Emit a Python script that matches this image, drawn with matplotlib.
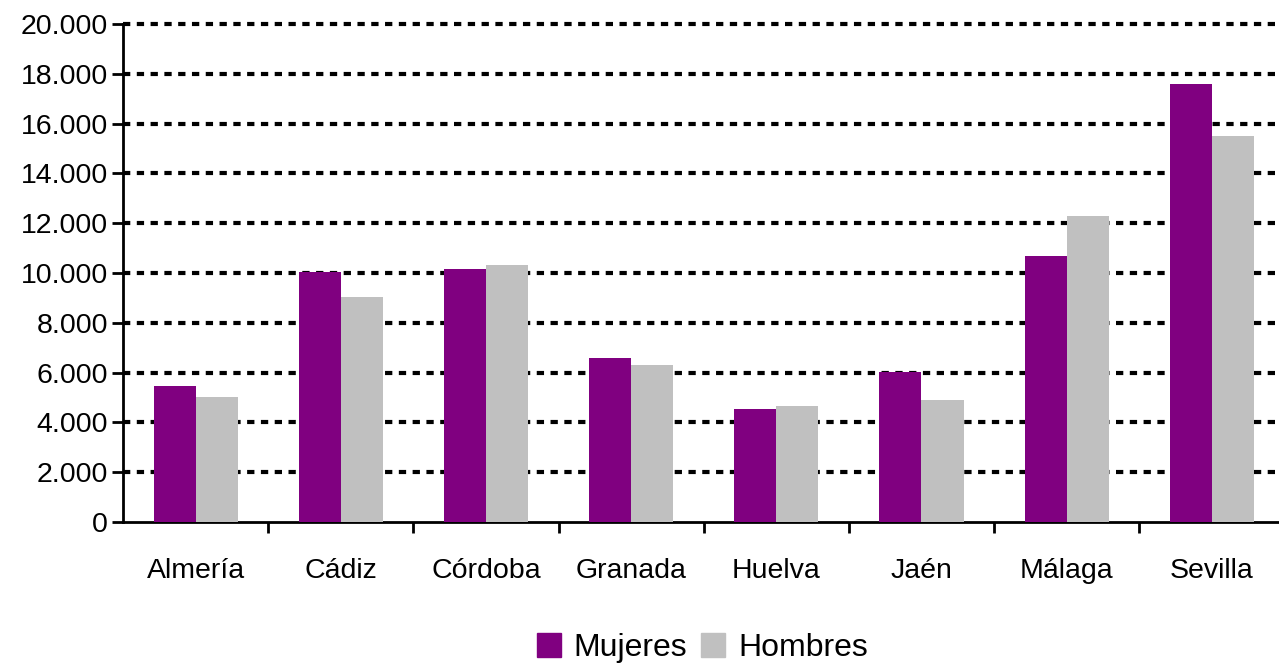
import numpy as np
import matplotlib
matplotlib.use("Agg")
import matplotlib.pyplot as plt
from matplotlib.patches import Patch
from matplotlib.ticker import FuncFormatter

plt.rcParams['font.family'] = ['Liberation Sans', 'DejaVu Sans']

provincias = ['Almería', 'Cádiz', 'Córdoba', 'Granada', 'Huelva', 'Jaén', 'Málaga', 'Sevilla']
mujeres = [5450, 10050, 10180, 6580, 4530, 6030, 10700, 17580]
hombres = [5020, 9050, 10330, 6300, 4650, 4880, 12300, 15520]

c_muj = '#800080'
c_hom = '#c0c0c0'

fig = plt.figure(figsize=(12.79, 6.67), dpi=100)
ax = fig.add_axes([0.0962, 0.2174, 0.908, 0.7466])

x = np.arange(len(provincias))
w = 0.29
ax.bar(x - w / 2, mujeres, w, color=c_muj, zorder=3)
ax.bar(x + w / 2, hombres, w, color=c_hom, zorder=3)

ax.set_xlim(-0.5, len(provincias) - 0.5)
ax.set_ylim(0, 20000)
ax.set_yticks(np.arange(0, 20001, 2000))
ax.yaxis.set_major_formatter(FuncFormatter(lambda v, p: f'{int(v):,}'.replace(',', '.')))

# dotted gridlines
for yv in np.arange(2000, 20001, 2000):
    ax.axhline(yv, color='black', lw=3, linestyle=(0, (1.75, 1.56)),
               dash_capstyle='butt', zorder=1, clip_on=False)

# category boundaries as major ticks, names on minor ticks
ax.set_xticks(np.arange(0.5, len(provincias) - 0.5, 1))
ax.set_xticklabels([])
ax.set_xticks(x, minor=True)
ax.set_xticklabels(provincias, minor=True)
ax.tick_params(axis='x', which='minor', length=0, pad=26, labelsize=20.5)
ax.tick_params(axis='x', which='major', direction='out', length=8, width=2)
ax.tick_params(axis='y', direction='out', length=8, width=2, labelsize=20.5, pad=3)

for s in ['top', 'right']:
    ax.spines[s].set_visible(False)
ax.spines['left'].set_linewidth(2)
ax.spines['bottom'].set_linewidth(2)

handles = [Patch(color=c_muj, label='Mujeres'), Patch(color=c_hom, label='Hombres')]
fig.legend(handles=handles, loc='center', bbox_to_anchor=(0.549, 0.028), ncol=2,
           frameon=False, fontsize=23, handlelength=0.75, handleheight=0.75,
           handletextpad=0.4, columnspacing=0.45)

fig.savefig('out.png', dpi=100)
